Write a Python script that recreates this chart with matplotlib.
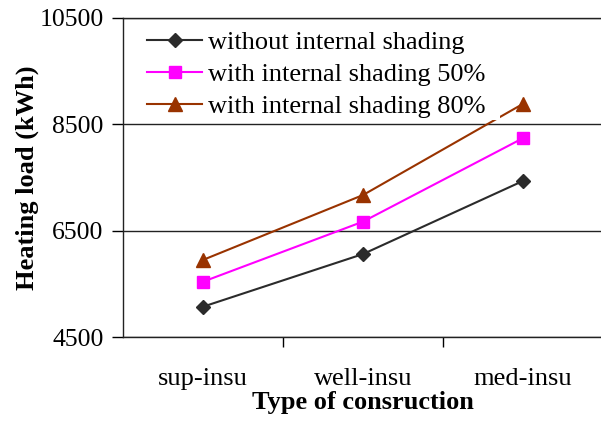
import matplotlib
matplotlib.use("Agg")
import matplotlib.pyplot as plt
from matplotlib.ticker import FixedLocator, NullFormatter, FixedFormatter
from matplotlib.patches import Rectangle

plt.rcParams['font.family'] = ['Liberation Serif', 'DejaVu Serif']

categories = ['sup-insu', 'well-insu', 'med-insu']
without_shading = [5070, 6060, 7435]
shading_50 = [5540, 6670, 8240]
shading_80 = [5950, 7170, 8885]
series_labels = ['without internal shading', 'with internal shading 50%', 'with internal shading 80%']
y_ticks = [4500, 6500, 8500, 10500]

fig = plt.figure(figsize=(6.01, 4.23), dpi=100)
ax = fig.add_axes([123/601, (423-337)/423, 480/601, (337-18)/423])

x = list(range(len(categories)))
ax.plot(x, without_shading, color='#2b2b2b', lw=1.5, marker='D', markersize=7, label=series_labels[0], zorder=3)
ax.plot(x, shading_50, color='#ff00ff', lw=1.5, marker='s', markersize=9, label=series_labels[1], zorder=3)
ax.plot(x, shading_80, color='#993300', lw=1.5, marker='^', markersize=10, label=series_labels[2], zorder=3)

ax.set_xlim(-0.5, len(categories) - 0.5)
ax.set_ylim(y_ticks[0], y_ticks[-1])
ax.yaxis.set_major_locator(FixedLocator(y_ticks))
ax.set_yticklabels([str(v) for v in y_ticks], fontsize=18.5)
ax.tick_params(axis='y', direction='out', length=8, width=1, pad=6)
ax.grid(axis='y', color='#222222', lw=1)
ax.set_axisbelow(True)

ax.xaxis.set_major_locator(FixedLocator([i + 0.5 for i in x[:-1]]))
ax.xaxis.set_major_formatter(NullFormatter())
ax.xaxis.set_minor_locator(FixedLocator(x))
ax.xaxis.set_minor_formatter(FixedFormatter(categories))
ax.tick_params(axis='x', which='major', direction='out', length=7, width=1)
ax.tick_params(axis='x', which='minor', length=0, labelsize=19, pad=22)

for s in ['left', 'bottom', 'top']:
    ax.spines[s].set_color('#222222')
    ax.spines[s].set_linewidth(1)
ax.spines['right'].set_visible(False)

ax.set_ylabel('Heating load (kWh)', fontsize=19, fontweight='bold', labelpad=0.5)
ax.set_xlabel('Type of consruction', fontsize=19, fontweight='bold', labelpad=1)

# white legend area (hides part of the 80% line as in the original)
ax.add_patch(Rectangle((0.0146, 0.680), 0.771, 0.314, transform=ax.transAxes,
                       facecolor='white', edgecolor='none', zorder=4))

leg = ax.legend(loc='upper left', bbox_to_anchor=(0.028, 0.994), frameon=False, fontsize=19,
                handlelength=2.1, handletextpad=0.2, labelspacing=0.32, borderpad=0.2,
                borderaxespad=0.2)
leg.set_zorder(5)

fig.savefig('out.png', dpi=100)
